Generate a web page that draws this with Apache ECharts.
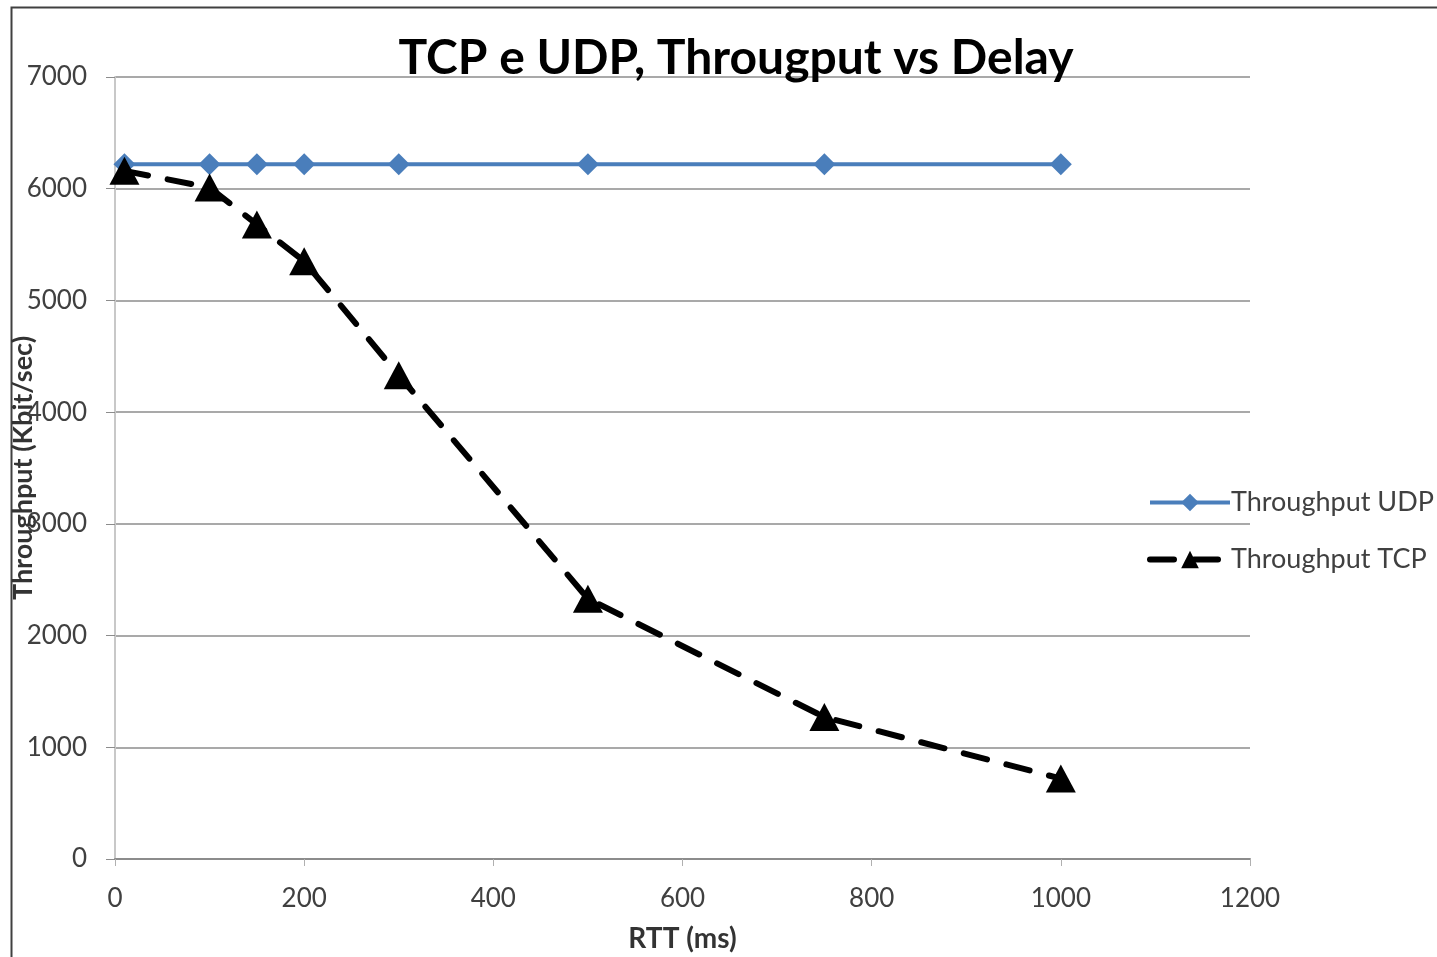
<!DOCTYPE html>
<html>
<head>
<meta charset="utf-8">
<script src="https://cdn.jsdelivr.net/npm/echarts@6/dist/echarts.min.js"></script>
<style>
  html, body { margin: 0; padding: 0; background: #fff; }
  #chart { width: 1437px; height: 957px; }
</style>
</head>
<body>
<div id="chart"></div>
<script>
// RTT values (ms) shared by both series
const rtt = [10, 100, 150, 200, 300, 500, 750, 1000]
const udpThroughput = [6220, 6220, 6220, 6220, 6220, 6220, 6220, 6220]
const tcpThroughput = [6160, 6010, 5680, 5350, 4330, 2330, 1270, 720]
const seriesNames = ['Throughput UDP', 'Throughput TCP']

const font = 'Lato'
const chart = echarts.init(document.getElementById('chart'))
const plain = (v) => String(v)

const option = {
  animation: false,
  textStyle: { fontFamily: font },
  title: {
    text: 'TCP e UDP, Througput vs Delay',
    left: 731,
    top: 30,
    textAlign: 'center',
    textStyle: { fontFamily: font, fontSize: 48, fontWeight: 'bold', color: '#000' }
  },
  legend: {
    orient: 'vertical',
    left: 1142,
    top: 484,
    itemWidth: 80,
    itemHeight: 22,
    itemGap: 30,
    textStyle: { fontFamily: font, fontSize: 27, color: '#404040', padding: [0, 0, 0, -4] },
    lineStyle: { width: 'inherit' },
    data: seriesNames
  },
  grid: { left: 115, right: 187, top: 77, bottom: 98, outerBoundsMode: 'none', containLabel: false },
  xAxis: {
    type: 'value',
    min: 0,
    max: 1200,
    interval: 200,
    name: 'RTT (ms)',
    nameLocation: 'middle',
    nameMoveOverlap: false,
    nameGap: 66,
    nameTextStyle: { fontFamily: font, fontSize: 28, fontWeight: 'bold', color: '#333' },
    axisLine: { lineStyle: { color: '#8c8c8c', width: 2 } },
    axisTick: { show: true, length: 7, lineStyle: { color: '#b0b0b0' } },
    axisLabel: { margin: 27, fontFamily: font, fontSize: 26, color: '#404040', formatter: plain },
    splitLine: { show: false }
  },
  yAxis: {
    type: 'value',
    min: 0,
    max: 7000,
    interval: 1000,
    name: 'Throughput (Kbit/sec)',
    nameLocation: 'middle',
    nameMoveOverlap: false,
    nameGap: 78,
    nameTextStyle: { fontFamily: font, fontSize: 27, fontWeight: 'bold', color: '#333' },
    axisLine: { show: true, lineStyle: { color: '#c8c8c8', width: 2 } },
    axisTick: { show: true, length: 9, lineStyle: { color: '#8c8c8c' } },
    axisLabel: { margin: 28, fontFamily: font, fontSize: 26, color: '#404040', formatter: plain },
    splitLine: { show: true, lineStyle: { color: '#8c8c8c', width: 1.5 } }
  },
  graphic: [{
    type: 'rect',
    left: 9,
    top: 5,
    shape: { width: 1440, height: 970 },
    style: { fill: 'none', stroke: '#404040', lineWidth: 2 },
    silent: true
  }],
  series: [
    {
      name: seriesNames[0],
      type: 'line',
      data: rtt.map((x, i) => [x, udpThroughput[i]]),
      symbol: 'diamond',
      symbolSize: 22,
      itemStyle: { color: '#4a7ebb' },
      lineStyle: { color: '#4a7ebb', width: 4 },
      z: 2
    },
    {
      name: seriesNames[1],
      type: 'line',
      data: rtt.map((x, i) => [x, tcpThroughput[i]]),
      symbol: 'triangle',
      symbolSize: [30, 28],
      itemStyle: { color: '#000' },
      lineStyle: { color: '#000', width: 6, type: [24, 20], cap: 'round' },
      z: 3
    }
  ]
}

chart.setOption(option)
</script>
</body>
</html>
